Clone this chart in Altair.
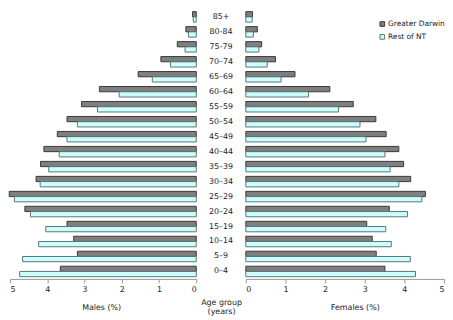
import altair as alt
import pandas as pd

ages = ["85+", "80-84", "75-79", "70–74", "65–69", "60–64", "55–59", "50–54", "45–49",
        "40–44", "35–39", "30–34", "25–29", "20–24", "15–19", "10–14", "5–9", "0–4"]
regions = ["Greater Darwin", "Rest of NT"]

males_gd = [0.10, 0.28, 0.51, 0.95, 1.56, 2.60, 3.08, 3.47, 3.73, 4.09, 4.18, 4.30, 5.02, 4.60, 3.47, 3.29, 3.19, 3.65]
males_rnt = [0.08, 0.21, 0.30, 0.69, 1.18, 2.07, 2.65, 3.19, 3.47, 3.68, 3.96, 4.19, 4.88, 4.45, 4.04, 4.23, 4.66, 4.74]
females_gd = [0.17, 0.29, 0.40, 0.75, 1.24, 2.12, 2.71, 3.28, 3.54, 3.86, 3.98, 4.16, 4.53, 3.62, 3.05, 3.19, 3.29, 3.51]
females_rnt = [0.16, 0.19, 0.33, 0.54, 0.89, 1.58, 2.34, 2.88, 3.03, 3.51, 3.64, 3.86, 4.44, 4.08, 3.53, 3.67, 4.15, 4.28]

ticks = [0, 1, 2, 3, 4, 5]

rows = []
for i, a in enumerate(ages):
    rows.append({"age": a, "sex": "Males", "region": regions[0], "value": males_gd[i]})
    rows.append({"age": a, "sex": "Males", "region": regions[1], "value": males_rnt[i]})
    rows.append({"age": a, "sex": "Females", "region": regions[0], "value": females_gd[i]})
    rows.append({"age": a, "sex": "Females", "region": regions[1], "value": females_rnt[i]})
df = pd.DataFrame(rows)
lab = pd.DataFrame({"age": ages, "pos": [0.5] * len(ages)})

FILL = ["#7f7f7f", "#ccffff"]
STROKE = ["#3a3a3a", "#5c7474"]
H = 272

yenc = alt.Y("age:N", sort=ages, axis=None,
             scale=alt.Scale(paddingInner=0.3, paddingOuter=0.15))
yoff = alt.YOffset("region:N", sort=regions)


def xaxis(title, tx):
    return alt.Axis(values=ticks, title=title, grid=False, tickSize=4, labelPadding=3,
                    titlePadding=10, titleX=tx, titleFontWeight="normal",
                    domainColor="#999999", tickColor="#999999",
                    labelColor="#222222", titleColor="#222222",
                    labelFontSize=8, titleFontSize=8)


left = alt.Chart(df[df.sex == "Males"]).mark_bar(strokeWidth=1).encode(
    x=alt.X("value:Q", scale=alt.Scale(domain=[0, 5], reverse=True, nice=False),
            axis=xaxis("Males (%)", 92)),
    y=yenc, yOffset=yoff,
    color=alt.Color("region:N", sort=regions, scale=alt.Scale(domain=regions, range=FILL), legend=None),
    stroke=alt.Stroke("region:N", sort=regions, scale=alt.Scale(domain=regions, range=STROKE), legend=None),
).properties(width=188, height=H)

mid = alt.Chart(lab).mark_text(fontSize=8, color="#222222", align="center", baseline="middle").encode(
    x=alt.X("pos:Q", scale=alt.Scale(domain=[0, 1]),
            axis=alt.Axis(title=["Age group", "(years)"], labels=False, ticks=False, domain=False,
                          grid=False, titlePadding=20, titleFontWeight="normal",
                          titleFontSize=8, titleColor="#222222", titleLineHeight=9)),
    y=alt.Y("age:N", sort=ages, axis=None,
            scale=alt.Scale(paddingInner=0.3, paddingOuter=0.15)),
    text="age:N",
).properties(width=48, height=H)

leg = alt.Legend(title=None, orient="none", legendX=134, legendY=11, symbolType="square",
                 symbolSize=22, labelFontSize=7.5, labelColor="#222222", rowPadding=3,
                 symbolStrokeWidth=1, labelOffset=2)

right = alt.Chart(df[df.sex == "Females"]).mark_bar(strokeWidth=1).encode(
    x=alt.X("value:Q", scale=alt.Scale(domain=[0, 5], nice=False),
            axis=xaxis("Females (%)", 110)),
    y=yenc, yOffset=yoff,
    color=alt.Color("region:N", sort=regions, scale=alt.Scale(domain=regions, range=FILL), legend=leg),
    stroke=alt.Stroke("region:N", sort=regions, scale=alt.Scale(domain=regions, range=STROKE), legend=leg),
).properties(width=200, height=H)

chart = alt.hconcat(left, mid, right, spacing=0).resolve_scale(
    color="independent", stroke="independent", x="independent"
).configure(font="DejaVu Sans", padding=0).configure_view(stroke=None)

chart.save("out.html", embed_options={"renderer": "svg", "actions": False})
